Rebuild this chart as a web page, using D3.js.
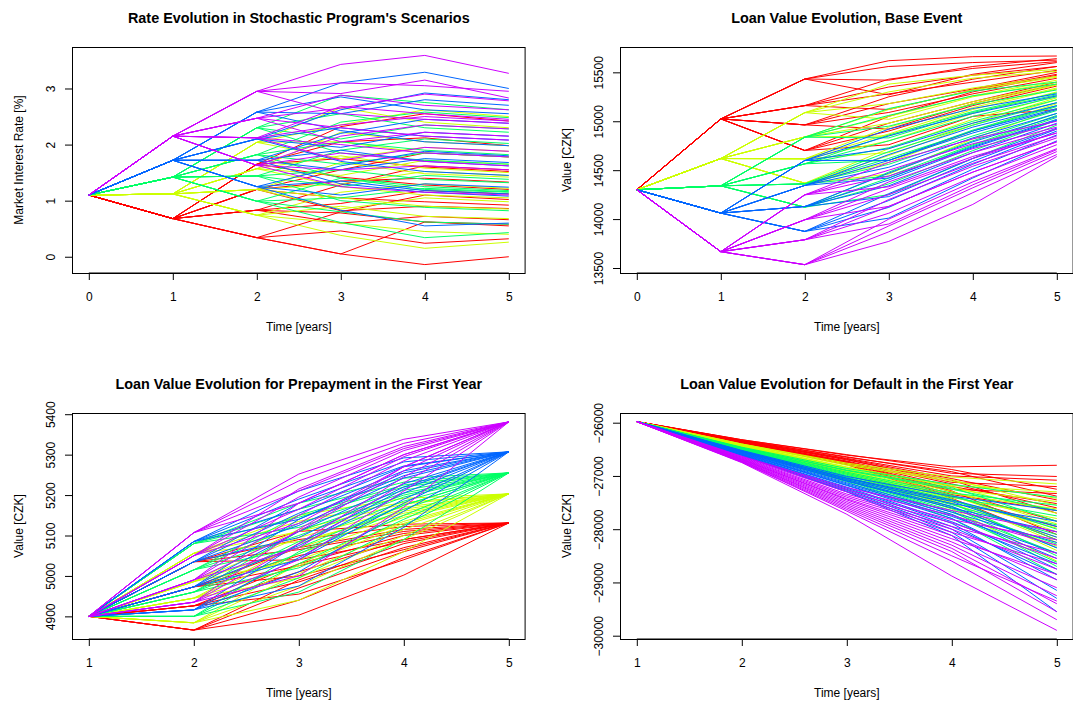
<!DOCTYPE html>
<html>
<head>
<meta charset="utf-8">
<script src="https://cdn.jsdelivr.net/npm/d3@7"></script>
<style>
  body { margin: 0; background: #fff; }
  svg { display: block; }
  text { font-family: "Liberation Sans", Arial, Helvetica, sans-serif; fill: #000; }
</style>
</head>
<body>
<svg id="chart" width="1073" height="702"></svg>
<script>
// ---- shared axes / palette -------------------------------------------------
const years = [0, 1, 2, 3, 4, 5];
const loanYears = [1, 2, 3, 4, 5];
// one colour per first-year branch of the scenario tree (rainbow(5))
const groupColors = ["#FF0000", "#CCFF00", "#00FF66", "#0066FF", "#CC00FF"];

// ---- market interest rate [%] ----------------------------------------------
const rateTicks = [0, 1, 2, 3];
const rateStart = 1.1;
const rateStage1 = [0.68, 1.12, 1.42, 1.72, 2.15];
// rows: years 2..5
const rateRed = [
  [1.65, 2.32, 2.55, 2.42], [1.65, 2.05, 2.12, 1.98], [1.65, 1.75, 1.60, 1.52], [1.65, 1.42, 1.28, 1.20],
  [1.20, 1.55, 1.85, 1.78], [1.20, 1.35, 1.40, 1.33], [1.20, 1.05, 0.98, 0.92], [1.20, 0.82, 0.90, 0.86],
  [0.83, 1.28, 1.62, 1.55], [0.83, 0.95, 1.18, 1.12], [0.83, 0.78, 0.62, 0.55], [0.83, 0.60, 0.72, 0.66],
  [0.34, 0.80, 1.10, 1.02], [0.34, 0.46, 0.24, 0.32], [0.34, 0.05, 0.62, 0.58], [0.34, 0.05, -0.14, 0.00]
];
const rateYellow = [
  [2.04, 2.66, 2.40, 2.30], [2.04, 2.35, 2.62, 2.50], [2.04, 2.05, 1.85, 1.78], [2.04, 1.75, 1.95, 1.88],
  [1.57, 2.22, 2.05, 1.98], [1.57, 1.80, 1.58, 1.50], [1.57, 1.45, 1.72, 1.65], [1.57, 1.25, 1.10, 1.05],
  [1.20, 1.68, 1.48, 1.42], [1.20, 1.30, 1.52, 1.45], [1.20, 1.05, 0.90, 0.85], [1.20, 0.85, 1.05, 0.98],
  [0.74, 1.15, 1.30, 1.22], [0.74, 0.90, 0.72, 0.68], [0.74, 0.60, 0.45, 0.40], [0.74, 0.38, 0.15, 0.26]
];
const rateGreen = [
  [2.30, 2.88, 2.75, 2.62], [2.30, 2.55, 2.30, 2.22], [2.30, 2.10, 2.35, 2.28], [2.30, 1.85, 1.72, 1.65],
  [1.82, 2.40, 2.58, 2.48], [1.82, 2.05, 1.90, 1.82], [1.82, 1.65, 1.85, 1.78], [1.82, 1.40, 1.25, 1.18],
  [1.44, 1.90, 2.10, 2.02], [1.44, 1.55, 1.38, 1.32], [1.44, 1.25, 1.45, 1.38], [1.44, 1.00, 0.88, 0.82],
  [0.99, 1.40, 1.20, 1.15], [0.99, 1.05, 1.22, 1.16], [0.99, 0.80, 0.62, 0.58], [0.99, 0.61, 0.34, 0.43]
];
const rateBlue = [
  [2.58, 3.10, 3.29, 3.00], [2.58, 2.85, 2.62, 2.55], [2.58, 2.55, 2.80, 2.70], [2.58, 2.25, 2.05, 1.98],
  [2.10, 2.62, 2.92, 2.80], [2.10, 2.30, 2.15, 2.08], [2.10, 1.95, 2.22, 2.15], [2.10, 1.70, 1.52, 1.45],
  [1.72, 2.20, 2.45, 2.38], [1.72, 1.90, 1.70, 1.62], [1.72, 1.55, 1.75, 1.68], [1.72, 1.30, 1.15, 1.08],
  [1.25, 1.62, 1.88, 1.80], [1.25, 1.35, 1.18, 1.12], [1.25, 1.10, 1.30, 1.24], [1.25, 0.83, 0.55, 0.60]
];
const ratePurple = [
  [2.95, 3.43, 3.59, 3.27], [2.95, 3.10, 3.05, 2.95], [2.95, 2.91, 3.15, 2.83], [2.95, 2.55, 2.45, 2.38],
  [2.47, 2.88, 2.70, 2.62], [2.47, 2.65, 2.90, 2.78], [2.47, 2.30, 2.15, 2.08], [2.47, 2.05, 2.22, 2.15],
  [2.12, 2.68, 2.55, 2.45], [2.12, 2.35, 2.50, 2.42], [2.12, 2.00, 1.85, 1.78], [2.12, 1.72, 1.95, 1.88],
  [1.63, 2.15, 2.35, 2.28], [1.63, 1.85, 1.70, 1.62], [1.63, 1.55, 1.62, 1.55], [1.63, 1.25, 1.15, 1.10]
];

// ---- loan value, base event [CZK] -------------------------------------------
const baseTicks = [13500, 14000, 14500, 15000, 15500];
const baseStart = 14300;
const baseStage1 = [15024, 14619, 14340, 14061, 13667];
const baseRed = [
  [15432, 15619, 15660, 15667], [15432, 15420, 15560, 15640], [15432, 15270, 15480, 15600], [15432, 15560, 15600, 15625],
  [15160, 15430, 15540, 15610], [15160, 15280, 15400, 15520], [15160, 15120, 15320, 15480], [15160, 15350, 15470, 15560],
  [14963, 15250, 15430, 15560], [14963, 15090, 15280, 15440], [14963, 14920, 15180, 15380], [14963, 15180, 15330, 15500],
  [14701, 15050, 15300, 15470], [14701, 14900, 15160, 15360], [14701, 14760, 15050, 15120], [14701, 14980, 15200, 15400]
];
const baseYellow = [
  [15088, 15300, 15440, 15510], [15088, 15180, 15340, 15460], [15088, 15020, 15250, 15400], [15088, 15380, 15470, 15530],
  [14840, 15120, 15320, 15450], [14840, 14980, 15200, 15380], [14840, 14850, 15120, 15330], [14840, 15050, 15260, 15420],
  [14616, 14940, 15180, 15370], [14616, 14800, 15080, 15300], [14616, 14680, 14980, 15240], [14616, 14870, 15140, 15340],
  [14367, 14720, 15020, 15260], [14367, 14580, 14900, 15180], [14367, 14460, 14820, 15130], [14367, 14650, 14960, 15220]
];
const baseGreen = [
  [14837, 15060, 15260, 15380], [14837, 14950, 15170, 15320], [14837, 14830, 15090, 15270], [14837, 15130, 15310, 15400],
  [14565, 14860, 15100, 15290], [14565, 14730, 15000, 15220], [14565, 14600, 14910, 15160], [14565, 14800, 15050, 15250],
  [14360, 14690, 14960, 15190], [14360, 14560, 14850, 15110], [14360, 14440, 14760, 15060], [14360, 14620, 14900, 15150],
  [14122, 14480, 14800, 15080], [14122, 14360, 14700, 15010], [14122, 14250, 14620, 14960], [14122, 14420, 14750, 15040]
];
const baseBlue = [
  [14599, 14850, 15080, 15260], [14599, 14720, 14980, 15190], [14599, 14600, 14900, 15130], [14599, 14920, 15130, 15280],
  [14344, 14660, 14940, 15160], [14344, 14530, 14830, 15080], [14344, 14420, 14740, 15020], [14344, 14600, 14880, 15120],
  [14129, 14470, 14790, 15050], [14129, 14340, 14680, 14980], [14129, 14230, 14590, 14920], [14129, 14400, 14730, 15010],
  [13874, 14260, 14620, 14930], [13874, 14120, 14510, 14860], [13874, 14010, 14420, 14800], [13874, 14190, 14560, 14900]
];
const basePurple = [
  [14248, 14580, 14820, 15000], [14248, 14440, 14720, 14940], [14248, 14330, 14640, 14880], [14248, 14500, 14770, 14970],
  [13993, 14380, 14680, 14920], [13993, 14250, 14570, 14850], [13993, 14130, 14480, 14790], [13993, 14310, 14620, 14880],
  [13789, 14200, 14540, 14830], [13789, 14060, 14430, 14760], [13789, 13950, 14350, 14710], [13789, 14130, 14480, 14790],
  [13534, 14000, 14380, 14720], [13534, 13870, 14270, 14660], [13534, 13772, 14150, 14640], [13534, 13930, 14320, 14690]
];

// ---- loan value, prepayment in the first year [CZK] -------------------------
const prepayTicks = [4900, 5000, 5100, 5200, 5300, 5400];
const prepayStart = 4900;
const prepayEnd = [5131, 5203, 5255, 5307, 5381];
// rows: years 2..4
const prepayRed = [
  [4866, 4903, 5002], [4866, 4940, 5045], [4866, 4970, 5060], [4866, 4990, 5080],
  [4926, 4955, 5040], [4926, 4985, 5070], [4926, 5010, 5090], [4926, 5030, 5100],
  [4973, 5000, 5065], [4973, 5025, 5085], [4973, 5050, 5105], [4973, 5070, 5115],
  [5035, 5040, 5090], [5035, 5065, 5110], [5035, 5090, 5122], [5035, 5110, 5128]
];
const prepayYellow = [
  [4884, 4940, 5060], [4884, 4975, 5090], [4884, 5005, 5115], [4884, 5030, 5135],
  [4945, 4995, 5100], [4945, 5025, 5125], [4945, 5055, 5145], [4945, 5080, 5160],
  [4986, 5040, 5130], [4986, 5070, 5150], [4986, 5095, 5165], [4986, 5115, 5178],
  [5056, 5085, 5155], [5056, 5110, 5170], [5056, 5135, 5182], [5056, 5150, 5192]
];
const prepayGreen = [
  [4900, 4960, 5090], [4900, 4995, 5125], [4900, 5030, 5150], [4900, 5060, 5175],
  [4960, 5020, 5140], [4960, 5055, 5165], [4960, 5085, 5185], [4960, 5110, 5200],
  [5015, 5070, 5175], [5015, 5100, 5195], [5015, 5130, 5212], [5015, 5150, 5225],
  [5080, 5120, 5205], [5080, 5145, 5220], [5080, 5165, 5232], [5080, 5180, 5242]
];
const prepayBlue = [
  [4916, 4975, 5120], [4916, 5010, 5160], [4916, 5045, 5190], [4916, 5080, 5215],
  [4973, 5040, 5180], [4973, 5075, 5205], [4973, 5110, 5228], [4973, 5140, 5248],
  [5035, 5095, 5220], [5035, 5125, 5242], [5035, 5155, 5260], [5035, 5180, 5272],
  [5085, 5140, 5255], [5085, 5165, 5270], [5085, 5190, 5282], [5085, 5210, 5292]
];
const prepayPurple = [
  [4935, 5000, 5170], [4935, 5040, 5210], [4935, 5080, 5245], [4935, 5115, 5270],
  [4990, 5070, 5230], [4990, 5110, 5260], [4990, 5150, 5285], [4990, 5180, 5300],
  [5050, 5130, 5270], [5050, 5165, 5295], [5050, 5195, 5310], [5050, 5215, 5320],
  [5107, 5180, 5300], [5107, 5210, 5315], [5107, 5235, 5328], [5107, 5252, 5338]
];

// ---- loan value, default in the first year [CZK] ----------------------------
const defaultTicks = [-30000, -29000, -28000, -27000, -26000];
const defaultStart = -25980;
// rows: years 2..5
const defaultRed = [
  [-26320, -26610, -26830, -26800], [-26330, -26640, -26950, -27010], [-26320, -26600, -26880, -27250], [-26340, -26670, -27000, -27080],
  [-26350, -26690, -27120, -27200], [-26330, -26650, -26920, -27380], [-26360, -26720, -27150, -27600], [-26340, -26680, -27050, -27450],
  [-26370, -26740, -27250, -27330], [-26350, -26700, -27080, -27700], [-26380, -26760, -27300, -27850], [-26360, -26730, -27200, -27520],
  [-26390, -26780, -27380, -27950], [-26370, -26750, -27280, -28100], [-26380, -26770, -27350, -27650], [-26390, -26790, -27420, -28200]
];
const defaultYellow = [
  [-26400, -26760, -27020, -27150], [-26410, -26800, -27100, -27420], [-26420, -26830, -27180, -27300], [-26400, -26780, -27070, -27550],
  [-26430, -26860, -27250, -27480], [-26420, -26840, -27200, -27700], [-26440, -26890, -27330, -27620], [-26430, -26870, -27290, -27900],
  [-26450, -26910, -27400, -27800], [-26440, -26900, -27370, -28050], [-26460, -26930, -27460, -27980], [-26450, -26920, -27430, -28250],
  [-26470, -26950, -27520, -28150], [-26460, -26940, -27500, -28400], [-26470, -26960, -27580, -28320], [-26480, -26970, -27620, -28600]
];
const defaultGreen = [
  [-26460, -26860, -27160, -27400], [-26470, -26900, -27250, -27650], [-26480, -26930, -27320, -27550], [-26470, -26890, -27220, -27850],
  [-26490, -26970, -27400, -27750], [-26480, -26950, -27360, -28000], [-26500, -27000, -27470, -27920], [-26490, -26990, -27440, -28200],
  [-26510, -27030, -27540, -28100], [-26500, -27020, -27520, -28350], [-26520, -27060, -27610, -28280], [-26510, -27040, -27580, -28500],
  [-26530, -27080, -27680, -28450], [-26520, -27070, -27650, -28700], [-26540, -27090, -27730, -28620], [-26550, -27110, -27800, -28850]
];
const defaultBlue = [
  [-26520, -27010, -27380, -27650], [-26530, -27040, -27450, -27950], [-26540, -27070, -27520, -27850], [-26530, -27050, -27480, -28150],
  [-26550, -27100, -27600, -28050], [-26550, -27090, -27570, -28350], [-26560, -27130, -27680, -28250], [-26570, -27150, -27720, -28550],
  [-26570, -27170, -27760, -28450], [-26580, -27180, -27800, -28750], [-26590, -27210, -27860, -28650], [-26590, -27230, -27890, -28950],
  [-26600, -27250, -27950, -28850], [-26610, -27270, -28000, -29150], [-26610, -27290, -28060, -29300], [-26620, -27300, -28120, -29550]
];
const defaultPurple = [
  [-26630, -27220, -27650, -28050], [-26640, -27260, -27740, -28300], [-26650, -27300, -27820, -28200], [-26660, -27340, -27880, -28550],
  [-26670, -27370, -27950, -28450], [-26680, -27400, -28000, -28750], [-26690, -27430, -28060, -28650], [-26690, -27450, -28120, -28950],
  [-26700, -27480, -28180, -28850], [-26710, -27510, -28240, -29100], [-26720, -27540, -28300, -29250], [-26720, -27570, -28360, -29400],
  [-26730, -27600, -28420, -29550], [-26740, -27630, -28500, -29350], [-26740, -27660, -28600, -29700], [-26750, -27720, -28880, -29900]
];

// ---- assemble full scenario paths --------------------------------------------
const rateGroups = [rateRed, rateYellow, rateGreen, rateBlue, ratePurple];
const baseGroups = [baseRed, baseYellow, baseGreen, baseBlue, basePurple];
const prepayGroups = [prepayRed, prepayYellow, prepayGreen, prepayBlue, prepayPurple];
const defaultGroups = [defaultRed, defaultYellow, defaultGreen, defaultBlue, defaultPurple];

const rateSeries = rateGroups.map((g, i) => g.map(r => [rateStart, rateStage1[i], ...r]));
const baseSeries = baseGroups.map((g, i) => g.map(r => [baseStart, baseStage1[i], ...r]));
const prepaySeries = prepayGroups.map((g, i) => g.map(r => [prepayStart, ...r, prepayEnd[i]]));
const defaultSeries = defaultGroups.map(g => g.map(r => [defaultStart, ...r]));

const fmtMinus = d => d < 0 ? "\u2212" + Math.abs(d) : String(d);

const panels = [
  { title: "Rate Evolution in Stochastic Program's Scenarios", left: 72, top: 47,
    xs: years, xDomain: [-0.2, 5.2], yDomain: [-0.29, 3.74], yTicks: rateTicks,
    yLabel: "Market Interest Rate [%]", series: rateSeries },
  { title: "Loan Value Evolution, Base Event", left: 620, top: 47,
    xs: years, xDomain: [-0.2, 5.2], yDomain: [13449, 15759], yTicks: baseTicks,
    yLabel: "Value [CZK]", series: baseSeries },
  { title: "Loan Value Evolution for Prepayment in the First Year", left: 72, top: 413,
    xs: loanYears, xDomain: [0.84, 5.16], yDomain: [4844, 5403], yTicks: prepayTicks,
    yLabel: "Value [CZK]", series: prepaySeries },
  { title: "Loan Value Evolution for Default in the First Year", left: 620, top: 413,
    xs: loanYears, xDomain: [0.84, 5.16], yDomain: [-30062, -25818], yTicks: defaultTicks,
    yLabel: "Value [CZK]", series: defaultSeries }
];

const W = 453.6, H = 226;
const svg = d3.select("#chart");

panels.forEach((p, pi) => {
  const g = svg.append("g").attr("transform", `translate(${p.left},${p.top})`);
  const x = d3.scaleLinear().domain(p.xDomain).range([0, W]);
  const y = d3.scaleLinear().domain(p.yDomain).range([H, 0]);

  g.append("clipPath").attr("id", "clip" + pi)
    .append("rect").attr("width", W).attr("height", H);

  const line = d3.line().x((d, i) => x(p.xs[i])).y(d => y(d));
  const lines = g.append("g").attr("clip-path", `url(#clip${pi})`);
  p.series.forEach((grp, gi) => {
    lines.append("g")
      .attr("fill", "none")
      .attr("stroke", groupColors[gi])
      .attr("stroke-width", 1)
      .selectAll("path").data(grp).join("path")
      .attr("d", line);
  });

  // x axis
  const xa = g.append("g").attr("transform", `translate(0,${H})`)
    .call(d3.axisBottom(x).tickValues(p.xs).tickFormat(d3.format("d")).tickSize(7).tickSizeOuter(0));
  xa.select(".domain").remove();
  xa.append("line").attr("x1", x(p.xs[0])).attr("x2", x(p.xs[p.xs.length - 1])).attr("stroke", "#000");
  xa.selectAll("text").attr("y", 24).attr("dy", "0.35em").attr("font-size", 12).attr("fill", "#000");
  xa.selectAll(".tick line").attr("stroke", "#000");

  // y axis
  const ya = g.append("g")
    .call(d3.axisLeft(y).tickValues(p.yTicks).tickFormat(fmtMinus).tickSize(7).tickSizeOuter(0));
  ya.select(".domain").remove();
  ya.selectAll(".tick line").attr("stroke", "#000");
  ya.selectAll("text")
    .attr("x", null).attr("dy", "0.35em")
    .attr("text-anchor", "middle")
    .attr("transform", "translate(-21,0) rotate(-90)")
    .attr("font-size", 12).attr("fill", "#000");

  // frame
  g.append("rect").attr("x", 0.5).attr("y", 0.5).attr("width", W - 1).attr("height", H)
    .attr("fill", "none").attr("stroke", "#000").attr("stroke-width", 1);

  // titles and axis labels
  g.append("text").attr("x", W / 2).attr("y", -29).attr("dy", "0.35em")
    .attr("text-anchor", "middle").attr("font-size", 14.4).attr("font-weight", "bold")
    .text(p.title);
  g.append("text").attr("x", W / 2).attr("y", H + 54).attr("dy", "0.35em")
    .attr("text-anchor", "middle").attr("font-size", 12).text("Time [years]");
  g.append("text")
    .attr("transform", `translate(-53,${H / 2}) rotate(-90)`)
    .attr("dy", "0.35em").attr("text-anchor", "middle").attr("font-size", 12)
    .text(p.yLabel);
});
</script>
</body>
</html>
